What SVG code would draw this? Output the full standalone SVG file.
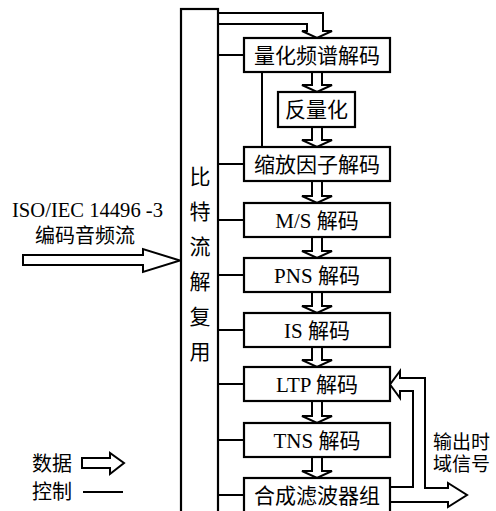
<svg xmlns="http://www.w3.org/2000/svg" width="496" height="511" viewBox="0 0 496 511">
<style>
.box{fill:#fff;stroke:#000;stroke-width:2.2}
.ln{fill:none;stroke:#000;stroke-width:2}
.ha{fill:#fff;stroke:#000;stroke-width:2;stroke-linejoin:miter}
.t{font-family:"Liberation Serif","Noto Sans CJK SC",serif;font-size:21px;fill:#000;text-anchor:middle}
.tl{font-family:"Liberation Serif","Noto Sans CJK SC",serif;font-size:20px;fill:#000}
.to{font-family:"Liberation Serif","Noto Sans CJK SC",serif;font-size:19px;fill:#000}
</style>
<rect width="496" height="511" fill="#fff"/>
<g id="connectors">
  <path class="ln" d="M218,55H244 M218,164H244 M218,220H244 M218,275H244 M218,330H244 M218,384H244 M218,440H244 M218,495H244"/>
  <path class="ln" d="M262,72V147"/>
  <path class="ha" style="fill:none" d="M218,13H323V31H332L317,38L302,31H307V24H218"/>
  <polygon class="ha" points="312,72 322,72 322,85 332,85 317,92 302,85 312,85"/>
  <polygon class="ha" points="312,127 322,127 322,140 332,140 317,147 302,140 312,140"/>
  <polygon class="ha" points="312,181 322,181 322,196 332,196 317,203 302,196 312,196"/>
  <polygon class="ha" points="312,237 322,237 322,251 332,251 317,258 302,251 312,251"/>
  <polygon class="ha" points="312,292 322,292 322,306 332,306 317,313 302,306 312,306"/>
  <polygon class="ha" points="312,347 322,347 322,360 332,360 317,367 302,360 312,360"/>
  <polygon class="ha" points="312,401 322,401 322,416 332,416 317,423 302,416 312,416"/>
  <polygon class="ha" points="312,457 322,457 322,471 332,471 317,478 302,471 312,471"/>
  <polygon class="ha" points="23,255 143,255 143,249 180,260.5 143,272 143,265 23,265"/>
  <path class="ha" style="fill:none" d="M390,487H413V391H400V398L390,384.5L400,371V378H425V488H448V483L467,495L448,507V502H390"/>
</g>
<g id="demux">
  <rect class="box" x="181" y="9" width="37" height="520"/>
  <text class="t" x="200" y="184">比</text>
  <text class="t" x="200" y="219">特</text>
  <text class="t" x="200" y="254">流</text>
  <text class="t" x="200" y="289">解</text>
  <text class="t" x="200" y="324">复</text>
  <text class="t" x="200" y="359">用</text>
</g>
<g id="n1"><rect class="box" x="244" y="38" width="146" height="34"/><text class="t" x="317" y="63">量化频谱解码</text></g>
<g id="n2"><rect class="box" x="278" y="92" width="77" height="35"/><text class="t" x="316.5" y="117">反量化</text></g>
<g id="n3"><rect class="box" x="244" y="147" width="146" height="34"/><text class="t" x="317" y="172">缩放因子解码</text></g>
<g id="n4"><rect class="box" x="244" y="203" width="146" height="34"/><text class="t" x="317" y="228">M/S 解码</text></g>
<g id="n5"><rect class="box" x="244" y="258" width="146" height="34"/><text class="t" x="317" y="283">PNS 解码</text></g>
<g id="n6"><rect class="box" x="244" y="313" width="146" height="34"/><text class="t" x="317" y="338">IS 解码</text></g>
<g id="n7"><rect class="box" x="244" y="367" width="146" height="34"/><text class="t" x="317" y="392">LTP 解码</text></g>
<g id="n8"><rect class="box" x="244" y="423" width="146" height="34"/><text class="t" x="317" y="448">TNS 解码</text></g>
<g id="n9"><rect class="box" x="244" y="478" width="146" height="50"/><text class="t" x="317" y="503">合成滤波器组</text></g>
<g id="input-label">
  <text class="tl" x="12" y="217" textLength="151" lengthAdjust="spacingAndGlyphs">ISO/IEC 14496 -3</text>
  <text class="tl" x="35" y="243">编码音频流</text>
</g>
<g id="output-label">
  <text class="to" x="433" y="449">输出时</text>
  <text class="to" x="433" y="471">域信号</text>
</g>
<g id="legend">
  <text class="tl" x="32" y="471">数据</text>
  <polygon class="ha" points="82,458 110,458 110,453 124,463 110,474 110,468 82,468"/>
  <text class="tl" x="32" y="499">控制</text>
  <path class="ln" d="M83,492H123"/>
</g>
</svg>
